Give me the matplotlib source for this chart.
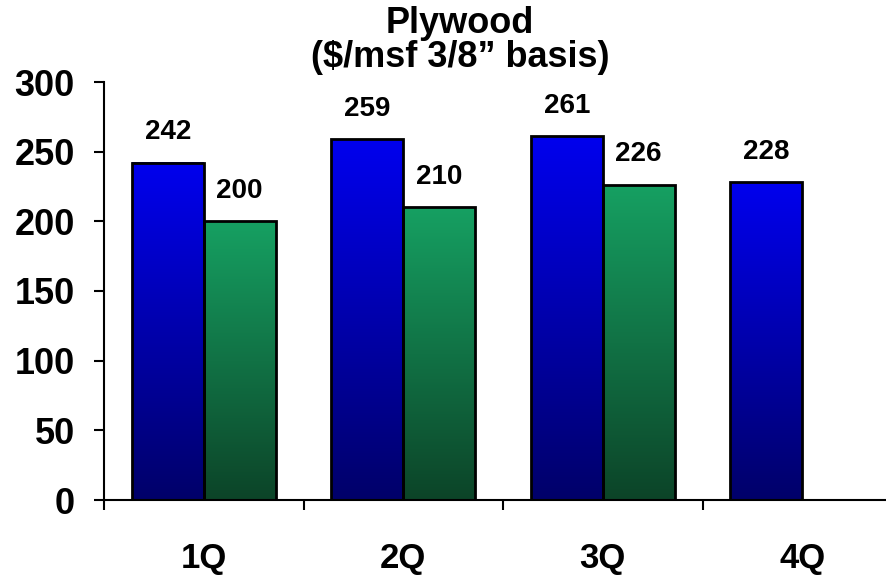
import numpy as np
import matplotlib
matplotlib.use('Agg')
from matplotlib import pyplot as plt
from matplotlib.colors import LinearSegmentedColormap

quarters = ['1Q', '2Q', '3Q', '4Q']
prior_year = [242, 259, 261, 228]
current_year = [200, 210, 226]
y_ticks = [0, 50, 100, 150, 200, 250, 300]

plt.rcParams['font.family'] = ['Liberation Sans', 'DejaVu Sans']
plt.rcParams['font.weight'] = 'bold'

# gradients: light at the top, dark at the bottom
blue_cm = LinearSegmentedColormap.from_list('b', [(0, 0, 105/255), (0, 0, 238/255)])
green_cm = LinearSegmentedColormap.from_list('g', [(12/255, 68/255, 40/255), (22/255, 160/255, 98/255)])

fig = plt.figure(figsize=(8.87, 5.75), dpi=100)
ax = fig.add_axes([104/887, 75/575, 798/887, 418/575])

width = 0.36
x = np.arange(len(quarters))
b1 = ax.bar(x + 0.14, prior_year, width, align='edge', facecolor='none',
            edgecolor='black', linewidth=2, zorder=3)
b2 = ax.bar(x[:len(current_year)] + 0.50, current_year, width, align='edge',
            facecolor='none', edgecolor='black', linewidth=2, zorder=3)

grad = np.linspace(0, 1, 256).reshape(-1, 1)
for bars, cm in [(b1, blue_cm), (b2, green_cm)]:
    for p in bars:
        x0, w, h = p.get_x(), p.get_width(), p.get_height()
        ax.imshow(grad, cmap=cm, origin='lower', aspect='auto',
                  extent=[x0, x0 + w, 0, h], zorder=2)
    for p in bars:
        ax.annotate(f'{int(p.get_height())}',
                    (p.get_x() + p.get_width() / 2, p.get_height()),
                    xytext=(0, 17), textcoords='offset points',
                    ha='center', va='baseline', fontsize=20, fontweight='bold')

ax.set_xlim(0, 4)
ax.set_ylim(0, 300)
ax.set_yticks(y_ticks)
ax.set_xticks(np.arange(5))
ax.set_xticklabels([])
ax.set_xticks(x + 0.5, minor=True)
ax.set_xticklabels(quarters, minor=True)

ax.tick_params(axis='y', direction='out', length=7, width=1.5, pad=14, labelsize=26)
ax.tick_params(axis='x', which='major', direction='out', length=7, width=1.5)
ax.tick_params(axis='x', which='minor', length=0, pad=30, labelsize=25)

for s in ['top', 'right']:
    ax.spines[s].set_visible(False)
for s in ['left', 'bottom']:
    ax.spines[s].set_linewidth(1.5)
ax.spines['bottom'].set_clip_on(False)

fig.text(460/887, 1 - 6/575, 'Plywood\n($/msf 3/8\u201d basis)', ha='center', va='top',
         fontsize=26, fontweight='bold', linespacing=0.95)

fig.savefig('out.png', dpi=100)
